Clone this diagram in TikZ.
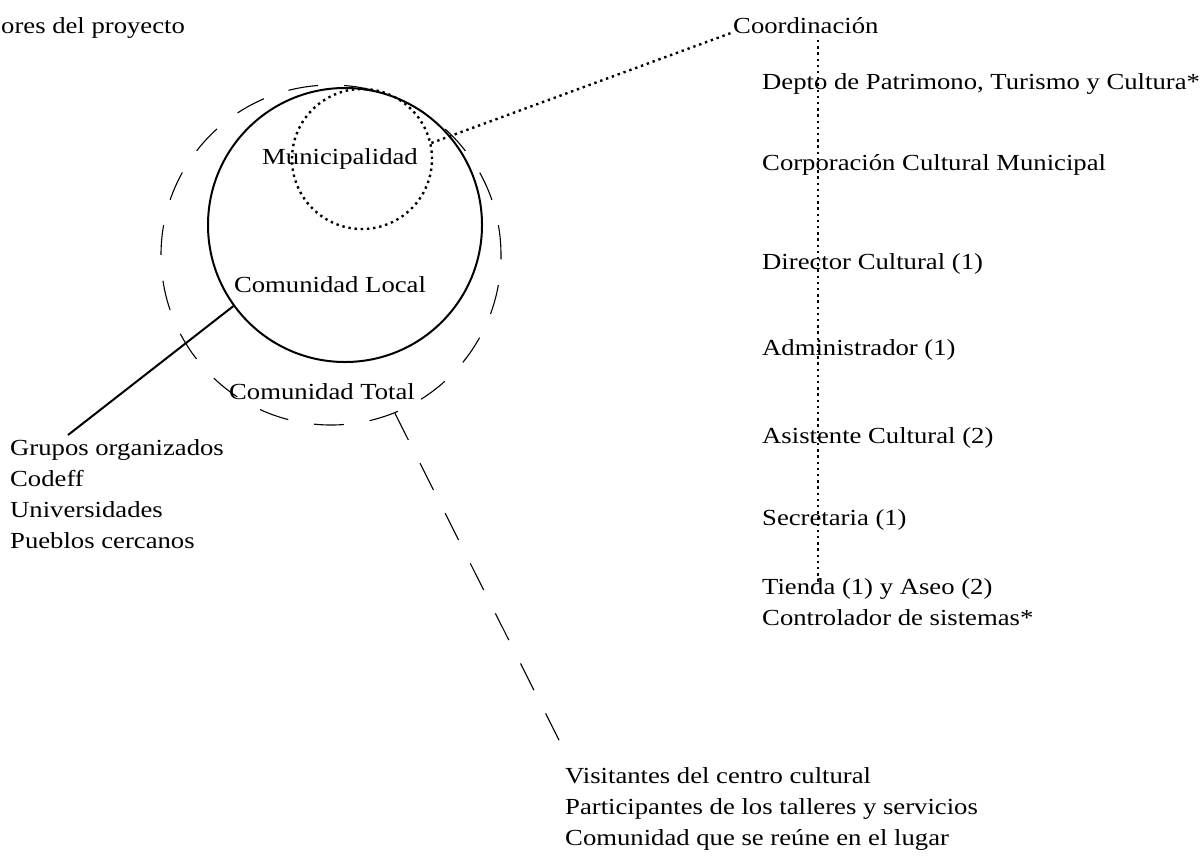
\documentclass[tikz,border=0pt]{standalone}
\usepackage{fontspec}
\setmainfont{Liberation Serif}[FakeStretch=1.16]
\begin{document}
\begin{tikzpicture}[x=1pt,y=-1pt,
  lbl/.style={inner sep=0pt,anchor=base west,font=\fontsize{23}{27}\selectfont},
  clbl/.style={inner sep=0pt,anchor=base,font=\fontsize{23}{27}\selectfont},
  ring/.style={circle,inner sep=0pt,minimum size=#1},
  dotline/.style={line width=2.4pt,dash pattern=on 2.4pt off 3.8pt},
  dashline/.style={line width=1.1pt,dash pattern=on 30pt off 26pt}]
\useasboundingbox (0,0) rectangle (1201,865);
% circles
\node[ring=340pt,draw,dashline] (total) at (331,255) {};
\node[ring=274pt,draw,line width=2pt] (local) at (345,225) {};
\node[ring=140pt,draw,dotline] (muni) at (362,159) {};
% labels
\node[lbl] (title) at (1,33) {ores del proyecto};
\node[clbl] (lmuni) at (340,164) {Municipalidad};
\node[clbl] (llocal) at (330,292) {Comunidad Local};
\node[clbl] (ltotal) at (322,399) {Comunidad Total};
\node[lbl] (coord) at (733,33) {Coordinación};
\node[lbl] (depto) at (762,89) {Depto de Patrimono, Turismo y Cultura*};
\node[lbl] (corp) at (762,170) {Corporación Cultural Municipal};
\node[lbl] (dir) at (762,269) {Director Cultural (1)};
\node[lbl] (adm) at (762,355) {Administrador (1)};
\node[lbl] (asis) at (762,443) {Asistente Cultural (2)};
\node[lbl] (secr) at (762,525) {Secretaria (1)};
\node[lbl] (tienda) at (762,594) {Tienda (1) y Aseo (2)};
\node[lbl] (contr) at (762,625) {Controlador de sistemas*};
\node[lbl] (grupos) at (10,455) {Grupos organizados};
\node[lbl] (codeff) at (10,486) {Codeff};
\node[lbl] (univ) at (10,517) {Universidades};
\node[lbl] (pueblos) at (10,548) {Pueblos cercanos};
\node[lbl] (visit) at (565,783) {Visitantes del centro cultural};
\node[lbl] (partic) at (565,814) {Participantes de los talleres y servicios};
\node[lbl] (comun) at (565,845) {Comunidad que se reúne en el lugar};
% connectors
\coordinate (gend) at (68,435);
\coordinate (vend) at (569,760);
\coordinate (ctop) at (818,40);
\coordinate (cbot) at (818,582);
\coordinate (cend) at (731,33);
\draw[line width=2pt] (local.216) -- (gend);
\draw[dotline] (muni.13) -- (cend);
\draw[dashline] (total.-68) -- (vend);
\draw[dotline] (ctop) -- (cbot);
\end{tikzpicture}
\end{document}
